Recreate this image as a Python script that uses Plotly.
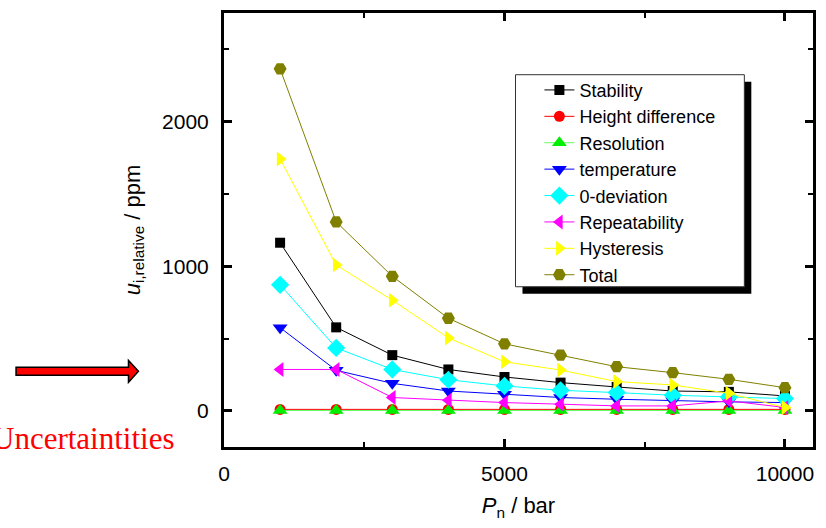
import plotly.graph_objects as go

# ---- data ----
pressure = [1000, 2000, 3000, 4000, 5000, 6000, 7000, 8000, 9000, 10000]
stability = [1162, 577, 385, 286, 234, 195, 165, 137, 131, 103]
height_difference = [10, 10, 10, 10, 10, 10, 10, 10, 10, 10]
resolution = [2, 2, 2, 2, 2, 2, 2, 2, 2, 2]
temperature = [575, 280, 190, 137, 115, 92, 80, 69, 62, 57]
zero_deviation = [871, 435, 286, 215, 172, 142, 126, 108, 96, 85]
repeatability = [286, 286, 92, 73, 57, 46, 34, 34, 69, 23]
hysteresis = [1741, 1008, 765, 504, 339, 282, 202, 179, 121, 23]
total = [2364, 1306, 930, 640, 463, 385, 305, 264, 218, 160]

series = [
    ("Stability", stability, "#000000", "#000000", "square", 10),
    ("Height difference", height_difference, "#ff0000", "#ff0000", "circle", 11),
    ("Resolution", resolution, "#00ee00", "#60ff60", "triangle-up", 13),
    ("temperature", temperature, "#0000ff", "#0000ff", "triangle-down", 13),
    ("0-deviation", zero_deviation, "#00ffff", "#00ffff", "diamond", 14),
    ("Repeatability", repeatability, "#ff00ff", "#ff00ff", "triangle-left", 13),
    ("Hysteresis", hysteresis, "#ffff00", "#ffff00", "triangle-right", 13),
    ("Total", total, "#808000", "#808000", "hexagon2", 13),
]

# ---- layout geometry (pixels) ----
W_PX, H_PX = 826, 528
L, R, T, B = 224, 816, 11, 447


def px(x):
    return (x - L) / (R - L)


def py(y):
    return (B - y) / (B - T)


fig = go.Figure()
for name, vals, mcol, lcol, sym, size in series:
    fig.add_trace(go.Scatter(
        x=pressure, y=vals, name=name, mode="lines+markers",
        line=dict(color=lcol, width=1),
        marker=dict(symbol=sym, size=size, color=mcol, line=dict(width=0)),
    ))

axis_common = dict(
    showline=True, linewidth=3, linecolor="black", mirror="allticks",
    ticks="inside", ticklen=8, tickwidth=3, tickcolor="black",
    showgrid=False, zeroline=False, tickformat="d",
    tickfont=dict(family="Liberation Sans, Arial", size=21, color="black"),
)

fig.update_layout(
    width=W_PX, height=H_PX,
    margin=dict(l=L, r=W_PX - R, t=T, b=H_PX - B),
    plot_bgcolor="white", paper_bgcolor="white",
    showlegend=True,
    legend=dict(
        x=px(541), y=py(70), xanchor="left", yanchor="top",
        bgcolor="rgba(0,0,0,0)", borderwidth=0,
        font=dict(family="Liberation Sans, Arial", size=18, color="black"),
    ),
    xaxis=dict(
        range=[0, 10500], tick0=0, dtick=5000,
        minor=dict(dtick=2500, ticks="inside", ticklen=5, tickwidth=2, tickcolor="black"),
        ticklabelstandoff=6,
        title=dict(text="<i>P</i><sub>n</sub> / bar", standoff=14,
                   font=dict(family="Liberation Sans, Arial", size=22, color="black")),
        **axis_common,
    ),
    yaxis=dict(
        range=[-250, 2750], tick0=0, dtick=1000,
        minor=dict(dtick=500, ticks="inside", ticklen=5, tickwidth=2, tickcolor="black"),
        ticklabelstandoff=8,
        title=dict(text="<i>u</i><sub>i,relative</sub> / ppm", standoff=16,
                   font=dict(family="Liberation Sans, Arial", size=22, color="black")),
        **axis_common,
    ),
)

# legend box with drop shadow
fig.add_shape(type="rect", xref="paper", yref="paper",
              x0=px(524), x1=px(754), y0=py(293), y1=py(80),
              fillcolor="black", line=dict(width=0), layer="above")
fig.add_shape(type="rect", xref="paper", yref="paper",
              x0=px(517), x1=px(747), y0=py(286), y1=py(73),
              fillcolor="white", line=dict(color="#333333", width=1), layer="above")

# red arrow on the left
arrow_path = "M {a},{b} L {c},{b} L {c},{d} L {e},{f} L {c},{g} L {c},{h} L {a},{h} Z".format(
    a=px(15), c=px(128), e=px(138),
    b=py(367), h=py(375), d=py(360), g=py(382), f=py(371))
fig.add_shape(type="path", xref="paper", yref="paper", path=arrow_path,
              fillcolor="#ff0000", line=dict(color="black", width=1.5), layer="above")

fig.add_annotation(xref="paper", yref="paper", x=px(177), y=py(438),
                   xanchor="right", yanchor="middle", showarrow=False,
                   text="Uncertaintities",
                   font=dict(family="Liberation Serif, Times New Roman", size=31, color="#ff0000"))

fig.write_html("out.html")
